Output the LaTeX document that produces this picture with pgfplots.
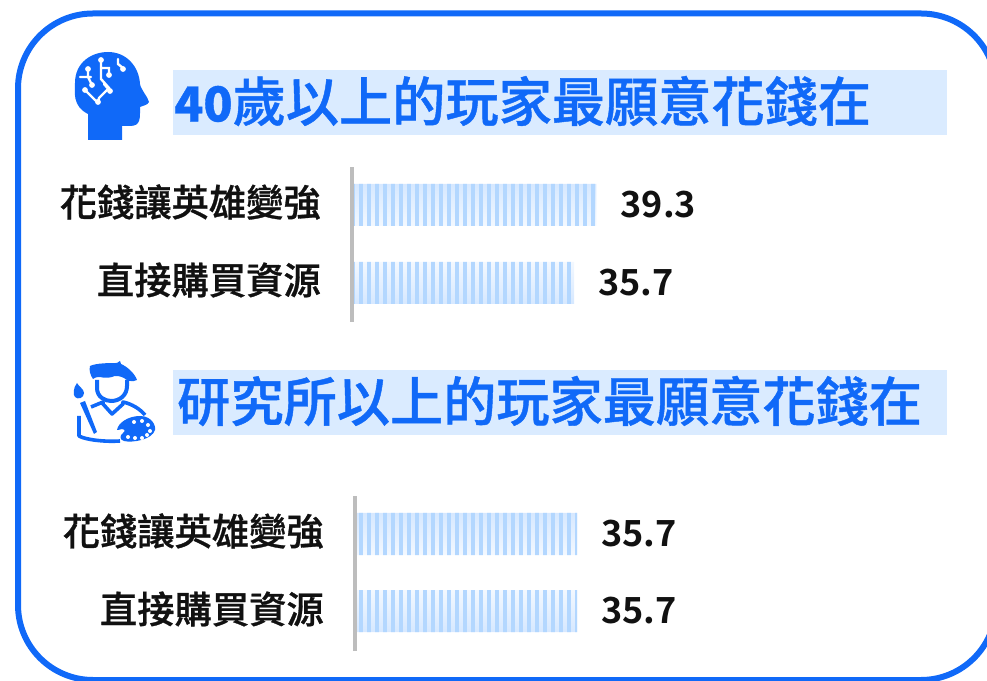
\documentclass[border=0pt]{standalone}
\usepackage{pgfplots}
\pgfplotsset{compat=1.18}
\usepackage{fontspec}
\usetikzlibrary{patterns.meta}
\setmainfont{Noto Sans CJK TC}[BoldFont={Noto Sans CJK TC Bold}]
\newfontfamily\med[FakeBold=0.8]{Noto Sans CJK TC Medium}
\definecolor{frameblue}{HTML}{1069F8}
\definecolor{headbg}{HTML}{DAEBFF}
\definecolor{stripe}{HTML}{B3D7FF}
\definecolor{edgeb}{HTML}{D6E8FF}
\definecolor{axgrey}{HTML}{BDBDBD}
\definecolor{ink}{HTML}{111111}
\pgfplotsset{
  barset/.style={
    xbar, x=6.22pt, y=1pt, bar width=42pt, bar shift=0pt,
    xmin=0, xmax=60, ymin=0, ymax=155,
    hide x axis,
    axis y line=left, y axis line style={draw=axgrey, line width=4pt, -},
    ytick={39,117}, yticklabels={直接購買資源,花錢讓英雄變強},
    yticklabel style={font=\fontsize{37.3}{37}\med, text=ink, inner sep=0pt, xshift=-31pt, yshift=3pt},
    major tick length=0pt, tick style={draw=none},
    clip=false, anchor=south west,
    axis on top,
  },
  gradbar/.style={draw=none, top color=edgeb, bottom color=edgeb, middle color=white},
  stripebar/.style={
    draw=none, fill=none,
    pattern={Lines[angle=90,distance=8pt,line width=4.2pt,xshift=0.8pt]}, pattern color=stripe,
    nodes near coords, point meta=explicit symbolic,
    every node near coord/.append style={font=\fontsize{36}{36}\bfseries, text=ink, inner sep=0pt, anchor=west, xshift=24pt},
  }
}
\begin{document}
\begin{tikzpicture}[x=1pt,y=1pt]
\path[use as bounding box] (0,0) rectangle (987,680);
\begin{scope}
\clip (0,0) rectangle (987,680);
\draw[frameblue, line width=6pt, rounded corners=75pt] (18,0) rectangle (996,666.5);
\end{scope}
% heading bands
\fill[headbg] (173,545) rectangle (947,610);
\fill[headbg] (173,245) rectangle (947,310);
\node[anchor=west, inner sep=0pt, text=frameblue, font=\fontsize{53.2}{53}\med] at (174,579) {{\fontsize{48}{48}\bfseries 40}歲以上的玩家最願意花錢在};
\node[anchor=west, inner sep=0pt, text=frameblue, font=\fontsize{53.2}{53}\med] at (177,279) {研究所以上的玩家最願意花錢在};
% brain icon
\begin{scope}[shift={(60,640)},yscale=-1]
\fill[frameblue] (28,100) -- (28,74)
  .. controls (12,66) and (15,52) .. (15,43)
  .. controls (15,22) and (32,12) .. (48,12)
  .. controls (66,12) and (79,26) .. (80,44)
  .. controls (81,50) and (88,57) .. (89,62)
  .. controls (88,65) and (82,66) .. (80,67)
  .. controls (80,78) and (81,86) .. (70,86) -- (62,86) -- (62,100) -- cycle;
\draw[white, line width=2.4pt, line cap=round]
  (41,20) -- (41,39) -- (49,48) -- (39,58) -- (38,62)
  (41,28) -- (49,28) -- (49,35)
  (28,29) -- (28,37) -- (32,45) (20,37) -- (31,37)
  (25,50) -- (35,60) -- (38,62) (44,44) -- (50,51)
  (58,19) -- (58,24) -- (63,28);
\foreach \p in {(41,20),(49,35),(28,29),(32,45),(25,50),(38,62),(50,51),(63,29)} \fill[white] \p circle (2.9pt);
\end{scope}
% artist icon
\begin{scope}[shift={(60,330)},yscale=-1,frameblue]
% beret and hair
\fill (30,16) .. controls (36,13) and (50,13) .. (57,13) -- (60,11) -- (61,14)
  .. controls (68,17) and (75,24) .. (77,30) .. controls (72,33) and (66,30) .. (64,28)
  .. controls (60,26) and (55,25) .. (52,27) .. controls (48,28) and (44,28) .. (40,27)
  .. controls (36,27) and (34,28) .. (33,29) .. controls (30,25) and (29,20) .. (30,16) -- cycle;
% head ring
\draw[line width=4pt] (37,30) -- (37,38) .. controls (37,47) and (45,51) .. (51,51)
  .. controls (60,51) and (67,45) .. (67,36) -- (67,30);
% body
\draw[line width=3.6pt, line join=round] (31,57) -- (43,52) -- (43,54) -- (52,64) -- (63,54) -- (63,52) .. controls (72,54) and (80,59) .. (85,65);
\draw[line width=3.6pt, line join=round] (19,66) -- (19,86) .. controls (26,90) and (46,92) .. (60,91);
% brush
\fill (20,53) -- (25,51) -- (37,82) -- (34,84) -- cycle;
\fill (17,33) .. controls (13,38) and (13,45) .. (15,47) .. controls (18,50) and (24,48) .. (24,43) .. controls (24,39) and (19,37) .. (17,33) -- cycle;
% palette
\fill (57,80) .. controls (58,73) and (68,66) .. (80,66) .. controls (92,66) and (96,76) .. (95,80)
  .. controls (92,90) and (72,93) .. (64,91) .. controls (60,90) and (59,86) .. (63,83)
  .. controls (66,81) and (64,78) .. (62,79) .. controls (59,80) and (58,80) .. (57,80) -- cycle;
\foreach \p in {(74,72),(82,71),(88,75),(90,81),(87,85),(82,88),(75,88),(68,87)} \fill[white] \p circle (2pt);
\end{scope}
% first chart
\begin{axis}[barset, at={(352pt,358pt)}]
\addplot[gradbar] coordinates {(35.7,39) (39.3,117)};
\addplot[stripebar] coordinates {(35.7,39) [35.7] (39.3,117) [39.3]};
\end{axis}
% second chart
\begin{axis}[barset, at={(355pt,29pt)}]
\addplot[gradbar] coordinates {(35.7,40) (35.7,117)};
\addplot[stripebar] coordinates {(35.7,40) [35.7] (35.7,117) [35.7]};
\end{axis}
\end{tikzpicture}
\end{document}
